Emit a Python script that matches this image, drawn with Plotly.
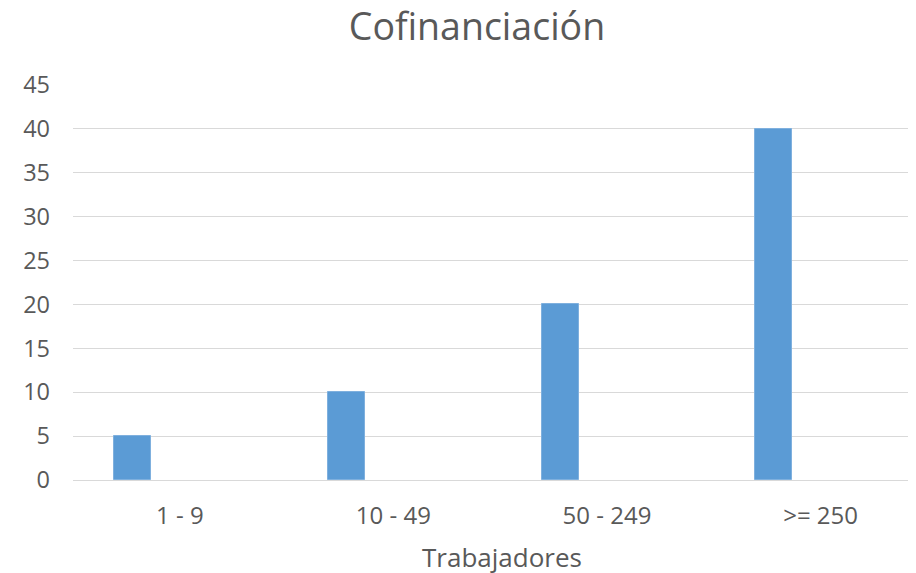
import plotly.graph_objects as go

categories = ["1 - 9", "10 - 49", "50 - 249", ">= 250"]
values = [5, 10, 20, 40]
y_ticks = [0, 5, 10, 15, 20, 25, 30, 35, 40, 45]

FONT = "Open Sans"
TXT = "#595959"

# page body has an 8px margin: figure origin is at (8, 8) on screen
L, T = 65, 77
PLOT_BOTTOM = 472
PLOT_W = 916 - L
CAT_PX = 213.6

fig = go.Figure()
fig.add_trace(go.Bar(
    x=categories, y=values,
    width=0.173, offset=-0.306,
    marker=dict(color="#5B9BD5", line=dict(color="#7FB0DE", width=1)),
    showlegend=False,
))

fig.update_layout(
    width=916, height=573,
    margin=dict(l=L, r=0, t=T, b=573 - PLOT_BOTTOM),
    paper_bgcolor="white", plot_bgcolor="white",
    font=dict(family=FONT, color=TXT),
    title=dict(text="Cofinanciación", x=469/916, xanchor="center",
               y=1 - 19/573, yanchor="middle",
               font=dict(size=37.5, color=TXT, family=FONT)),
    bargap=0,
    xaxis=dict(
        type="category", range=[-0.5, -0.5 + PLOT_W / CAT_PX],
        showgrid=False, showline=True, linecolor="#D9D9D9", linewidth=1,
        ticks="", tickfont=dict(size=24, color=TXT), ticklabelstandoff=14,
    ),
    yaxis=dict(
        range=[0, 45], tickvals=y_ticks, ticktext=[str(v) for v in y_ticks],
        showgrid=True, gridcolor="#D9D9D9", gridwidth=1,
        zeroline=False, showline=False, ticks="",
        tickfont=dict(size=23.5, color=TXT), ticklabelstandoff=22,
    ),
    annotations=[dict(
        text="Trabajadores", xref="paper", yref="paper",
        x=(502 - 73) / PLOT_W, y=(480 - 557) / 395,
        xanchor="center", yanchor="middle", showarrow=False,
        font=dict(size=26, color=TXT, family=FONT),
    )],
)

fig.write_html("out.html")
